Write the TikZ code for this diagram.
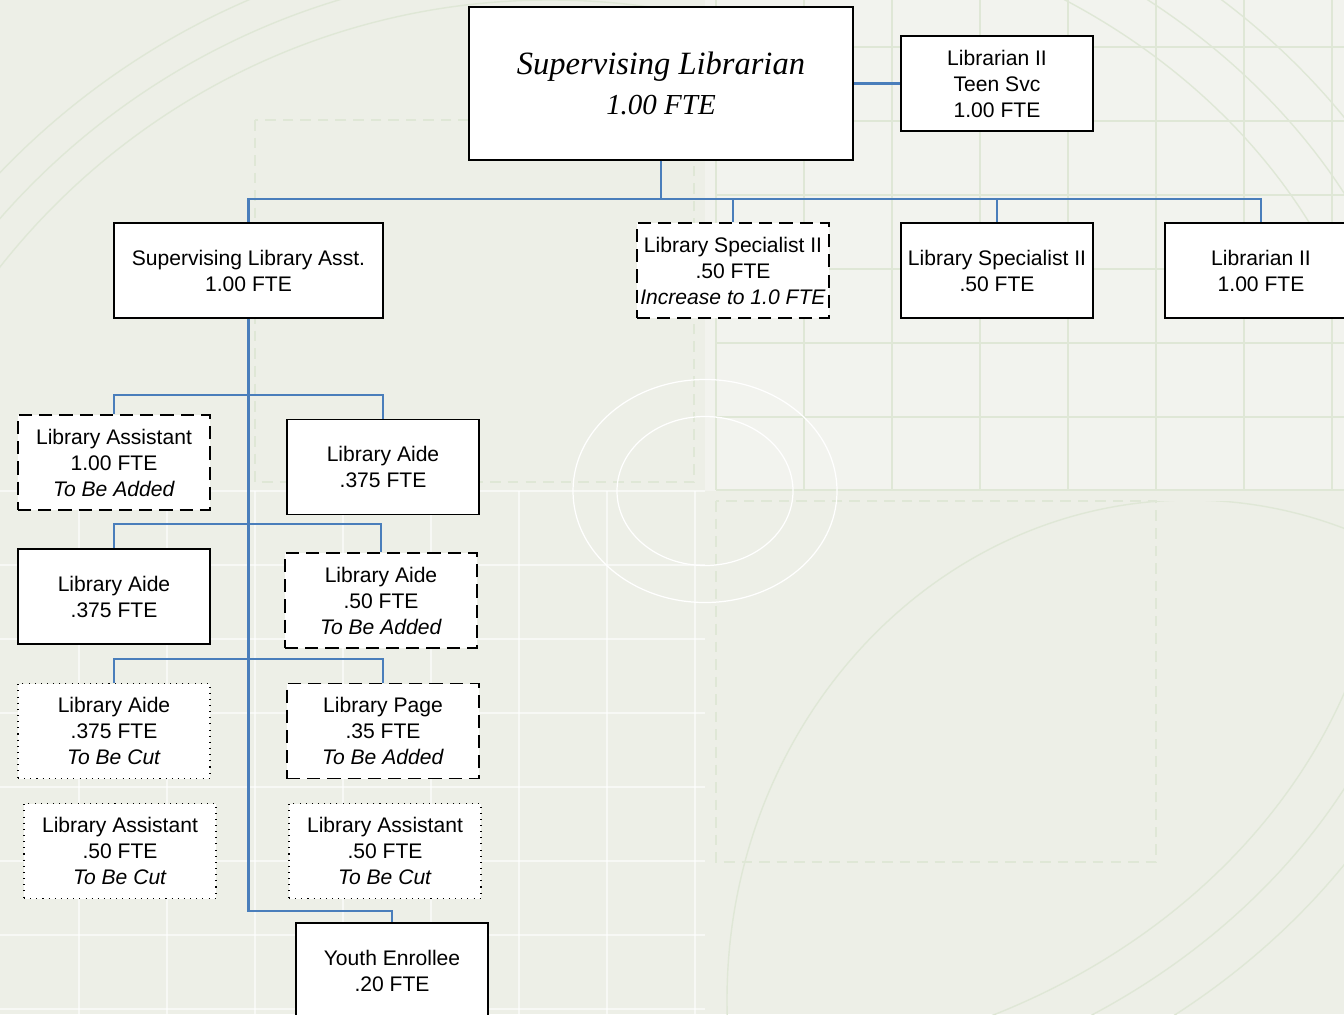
\documentclass[tikz,border=0pt]{standalone}
\usepackage{fontspec}
\setmainfont{Liberation Sans}
\newfontfamily\titlefont{Liberation Serif}
\definecolor{linkblue}{HTML}{4A7EBB}
\definecolor{bgfill}{HTML}{EDEFE7}
\definecolor{bglight}{HTML}{F2F3EE}
\definecolor{gridgreen}{HTML}{DFE7D6}
\tikzset{
  post/.style={draw=black, line width=1.1pt, fill=white, minimum width=3.84cm,
    minimum height=1.9cm, align=center, inner sep=0pt,
    font=\fontsize{12}{14.8}\selectfont},
  newpost/.style={post, dash pattern=on 7.5pt off 4pt},
  cutpost/.style={post, line width=0.6pt, dash pattern=on 0.6pt off 2.9pt},
  link/.style={draw=linkblue, line width=1.25pt},
  bgline/.style={draw=gridgreen, line width=0.8pt},
  wline/.style={draw=white, opacity=0.6, line width=0.7pt}
}
\begin{document}
\begin{tikzpicture}[x=0.02cm, y=-0.02cm]
  \useasboundingbox (0,0) rectangle (1344,1014);
  % background
  \fill[bgfill] (0,0) rectangle (1344,1014);
  \fill[bglight] (705,0) rectangle (1344,491);
  \foreach \gx in {716,804,...,1332} \draw[bgline] (\gx,0) -- (\gx,490);
  \foreach \gy in {47,121,...,417} \draw[bgline] (716,\gy) -- (1344,\gy);
  \draw[bgline] (716,490) -- (1344,490);
  \foreach \gx in {79,167,...,695} \draw[wline] (\gx,491) -- (\gx,1014);
  \foreach \gy in {565,639,...,1009} \draw[wline] (0,\gy) -- (705,\gy);
  \draw[wline] (0,491) -- (705,491);
  \draw[bgline, dash pattern=on 6pt off 4pt] (255,120) rectangle (694,482);
  \draw[bgline, dash pattern=on 6pt off 4pt] (716,501) rectangle (1156,862);
  \begin{scope}
    \clip (0,0) rectangle (705,491);
    \foreach \r in {700,731,762} \draw[bgline] (550,700) circle[radius=\r];
  \end{scope}
  \begin{scope}
    \clip (716,0) rectangle (1344,1014);
    \foreach \r in {578,618,658} \draw[bgline] (705,491) ellipse[x radius=1.18*\r, y radius=\r];
  \end{scope}
  \begin{scope}
    \clip (716,501) rectangle (1344,1014);
    \draw[bgline] (1190,1000) ellipse[x radius=463, y radius=500];
  \end{scope}
  \draw[white, line width=0.7pt] (705,491) ellipse[x radius=132, y radius=111.5];
  \draw[white, line width=0.7pt] (705,491) ellipse[x radius=88, y radius=74.5];

  % posts
  \node[post, minimum width=7.68cm, minimum height=3.06cm,
    font=\titlefont\itshape\fontsize{18.5}{23}\selectfont] (chief) at (661,83.5)
    {Supervising Librarian\\{\fontsize{16.5}{23}\selectfont 1.00 FTE}};
  \node[post] (teen) at (997,83.5) {Librarian II\\Teen Svc\\1.00 FTE};
  \node[post, minimum width=5.38cm] (supasst) at (248.5,270.5) {Supervising Library Asst.\\1.00 FTE};
  \node[newpost] (spec1) at (733,270.5) {Library Specialist II\\.50 FTE\\\textit{Increase to 1.0 FTE}};
  \node[post] (spec2) at (997,270.5) {Library Specialist II\\.50 FTE};
  \node[post] (lib2) at (1261,270.5) {Librarian II\\1.00 FTE};

  \node[newpost] (asst1) at (114,462.5) {Library Assistant\\1.00 FTE\\\textit{To Be Added}};
  \node[post] (aide1) at (383,467) {Library Aide\\.375 FTE};
  \node[post] (aide2) at (114,596.5) {Library Aide\\.375 FTE};
  \node[newpost] (aide3) at (381,600.5) {Library Aide\\.50 FTE\\\textit{To Be Added}};
  \node[cutpost] (aide4) at (114,731) {Library Aide\\.375 FTE\\\textit{To Be Cut}};
  \node[newpost] (page) at (383,731) {Library Page\\.35 FTE\\\textit{To Be Added}};
  \node[cutpost] (asst2) at (120,851) {Library Assistant\\.50 FTE\\\textit{To Be Cut}};
  \node[cutpost] (asst3) at (385,851) {Library Assistant\\.50 FTE\\\textit{To Be Cut}};
  \node[post] (youth) at (392,970.5) {Youth Enrollee\\.20 FTE};

  % links
  \draw[link] (chief.east) -- (teen.west);
  \foreach \n in {supasst,spec1,spec2,lib2}
    \draw[link] (chief.south) -- ++(0,38) -| (\n.north);
  \draw[link] (supasst.south) -- ++(0,592) -| (youth.north);
  \draw[link] (asst1.north) -- ++(0,-19) -| (aide1.north);
  \draw[link] (aide2.north) -- ++(0,-24) -| (aide3.north);
  \draw[link] (aide4.north) -- ++(0,-24) -| (page.north);
\end{tikzpicture}
\end{document}
